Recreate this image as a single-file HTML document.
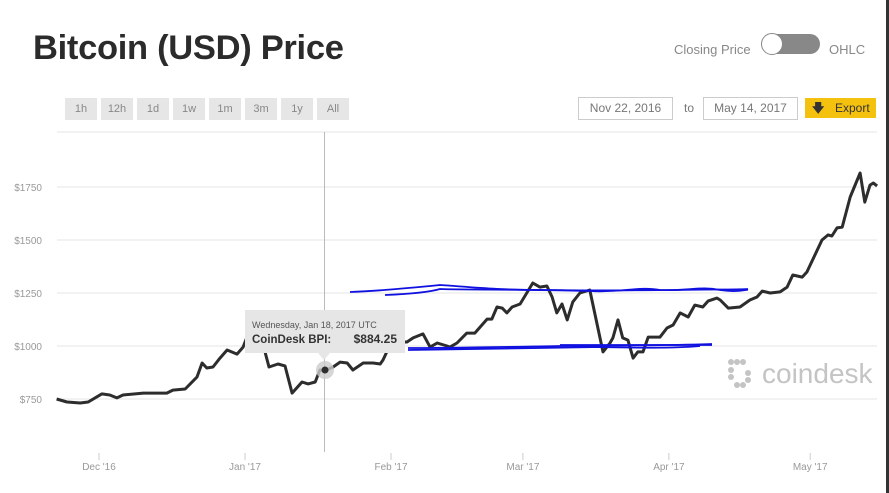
<!DOCTYPE html>
<html><head><meta charset="utf-8"><style>
body{margin:0;width:889px;height:493px;background:#fff;font-family:"Liberation Sans",sans-serif;overflow:hidden;position:relative}
.abs{position:absolute}
.btn{position:absolute;top:98px;height:22px;width:32px;background:#e6e6e6;color:#888;font-size:11px;line-height:22px;text-align:center}
.box{position:absolute;top:97px;height:21px;border:1px solid #ccc;color:#777;font-size:12px;line-height:21px;text-align:center}
</style></head><body>
<div class="abs" style="left:33px;top:29px;font-size:34.5px;font-weight:bold;color:#2b2b2b;letter-spacing:-0.3px">Bitcoin (USD) Price</div>
<div class="abs" style="left:674px;top:42px;font-size:13px;color:#888">Closing Price</div>
<div class="abs" style="left:762px;top:34px;width:58px;height:20px;border-radius:10px;background:#888">
  <div style="position:absolute;left:-1px;top:-1px;width:20px;height:20px;border-radius:11px;background:#fff;border:1px solid #888"></div></div>
<div class="abs" style="left:829px;top:42px;font-size:13px;color:#888">OHLC</div>
<div class="btn" style="left:65px">1h</div>
<div class="btn" style="left:101px">12h</div>
<div class="btn" style="left:137px">1d</div>
<div class="btn" style="left:173px">1w</div>
<div class="btn" style="left:209px">1m</div>
<div class="btn" style="left:245px">3m</div>
<div class="btn" style="left:281px">1y</div>
<div class="btn" style="left:317px">All</div>
<div class="box" style="left:578px;width:93px">Nov 22, 2016</div>
<div class="abs" style="left:684px;top:101px;font-size:12px;color:#777">to</div>
<div class="box" style="left:703px;width:93px">May 14, 2017</div>
<div class="abs" style="left:805px;top:98px;width:71px;height:20px;background:#f5c10f;font-size:12px;line-height:20px;color:#333"><span style="position:absolute;left:7px;font-weight:bold">&#129095;</span><span style="position:absolute;left:30px">Export</span></div>
<div class="abs" style="left:886px;top:0;width:3px;height:493px;background:#333"></div>
<svg id="chart" class="abs" style="left:0;top:0" width="889" height="493"></svg>
<script>
const days=[0,2.2,5,6.7,9.6,11.3,12.8,14.1,18.4,23.4,24.7,27.3,29.8,30.9,31.9,33.2,34.7,36.2,38.3,39.6,41,42.3,43.6,44.3,45.1,47,48.5,50,52.1,53.4,54.9,55.9,57,58.7,60.2,61.7,62.9,65.1,67.2,68.7,69.3,70.1,71.4,72.9,74.4,75.7,77.8,79.3,80.8,82.9,83.5,85,87.1,88.8,91.4,92.4,93.5,94.6,95.6,96.7,98.4,101.1,102.6,104.1,105.2,106.2,107.3,108.4,109.6,111.1,113.2,116,117.5,118.1,119.2,120.2,121.3,122.4,123.4,124.5,125.6,128.1,129.6,130.9,132.4,134.1,135.5,137.2,138.3,140.2,140.9,142.6,145.1,147.2,148.7,149.8,151.5,153.6,155.1,156.3,158.3,159.3,162.5,163.8,164.6,165.7,166.8,168.5,170.6,171.6,172.7,173.4,174.2];
const prices=[750,736,731,736,774,769,755,769,778,778,792,797,854,920,896,901,943,981,962,995,1075,1140,1050,967,901,915,906,778,830,821,830,887,884,901,924,920,887,920,920,915,934,972,1014,1019,1019,1038,1057,995,1014,1000,995,1014,1061,1061,1127,1127,1184,1179,1156,1184,1198,1297,1278,1283,1231,1156,1198,1123,1208,1250,1264,972,1014,1038,1123,1038,1028,943,972,972,1042,1042,1085,1099,1156,1137,1193,1184,1212,1226,1217,1179,1184,1217,1231,1259,1250,1255,1278,1335,1325,1349,1500,1524,1519,1557,1561,1703,1816,1679,1759,1769,1755];
const yTicks=[750,1000,1250,1500,1750];
const xTickLabels=["Dec '16","Jan '17","Feb '17","Mar '17","Apr '17","May '17"];
const xTickDays=[9,40,71,99,130,160];
const NS='http://www.w3.org/2000/svg';
const svg=document.getElementById('chart');
const X=d=>56.6+d*4.71;
const Y=v=>399-(v-750)*53/250;
function mk(t,a){const e=document.createElementNS(NS,t);for(const k in a)e.setAttribute(k,a[k]);svg.appendChild(e);return e;}
let g=mk('line',{x1:57,x2:877,y1:132,y2:132,stroke:'#e6e6e6'});


yTicks.forEach(v=>{
 const l=mk('line',{x1:57,x2:877,y1:Y(v),y2:Y(v),stroke:'#e6e6e6'});
 
 
 const t=mk('text',{x:42,y:Y(v)+4,'text-anchor':'end','font-size':10,fill:'#999'});
 t.textContent='$'+v;
 
 
});
xTickDays.forEach((d,i)=>{
 const l=mk('line',{x1:X(d),x2:X(d),y1:453,y2:460,stroke:'#ccc'});
 
 
 const t=mk('text',{x:X(d),y:470,'text-anchor':'middle','font-size':10,fill:'#999'});
 t.textContent=xTickLabels[i];
 
 
});
const wm=mk('text',{x:762,y:383,'font-size':28,fill:'#c4c4c4'});
wm.textContent='coindesk';


[[731,362],[737,362],[743,362],[731,370],[731,377],[737,385],[743,385],[748,373],[748,380]].forEach(p=>{
 const c=mk('circle',{cx:p[0],cy:p[1],r:3,fill:'#c4c4c4'});
 
 
});
const ch=mk('line',{x1:324.5,x2:324.5,y1:132,y2:452,stroke:'#bbb'});


const line=mk('path',{d:days.map((d,i)=>(i?'L':'M')+X(d).toFixed(1)+','+Y(prices[i]).toFixed(1)).join(''),fill:'none',stroke:'#2d2d2d','stroke-width':3,'stroke-linejoin':'round'});


const ann=["M350,292 C380,291 420,287 440,285 C470,287 500,290 540,290 C600,291 640,290 680,290 C710,289 730,290 748,289",
"M385,295 C410,294 430,292 440,289 C470,290 520,289 590,291 C620,293 640,286 660,290 C690,291 700,286 720,290 C740,293 745,289 748,290",
"M408,348 C450,348 500,347 560,346 C600,345 650,346 712,344",
"M408,350 C460,349 520,348 600,347 C640,348 680,348 700,346",
"M560,345 L712,345"];
ann.forEach(d=>{
 const p=mk('path',{d:d,fill:'none',stroke:'#1010e0','stroke-width':1.8});
 
 
});
const hl=mk('circle',{cx:325,cy:370,r:9,fill:'#ccc',opacity:0.8});


const pt=mk('circle',{cx:325,cy:370,r:3.5,fill:'#2d2d2d'});


const tb=mk('path',{d:'M245,310 H405 V353 H330 L324,360 L318,353 H245 Z',fill:'#e6e6e6'});


const t1=mk('text',{x:252,y:328,'font-size':9,fill:'#555'});
t1.textContent='Wednesday, Jan 18, 2017 UTC';


const t2=mk('text',{x:252,y:343,'font-size':11.5,fill:'#333','font-weight':'bold'});
t2.textContent='CoinDesk BPI:';


const t3=mk('text',{x:397,y:343,'font-size':12,fill:'#333','font-weight':'bold','text-anchor':'end'});
t3.textContent='$884.25';


</script>
</body></html>
